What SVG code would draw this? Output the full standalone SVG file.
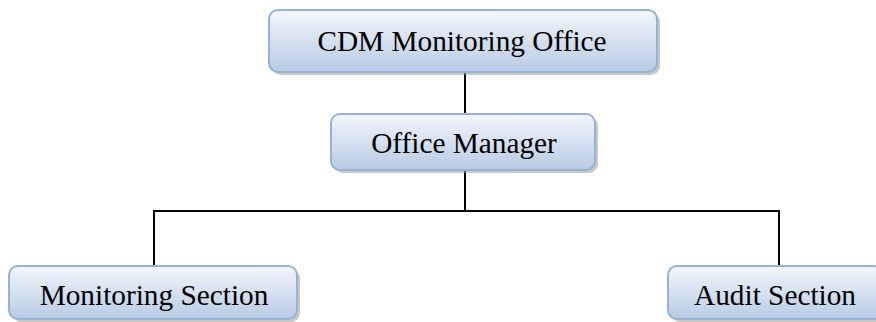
<svg xmlns="http://www.w3.org/2000/svg" width="876" height="322" viewBox="0 0 876 322">
  <defs>
    <linearGradient id="boxFill" x1="0" y1="0" x2="0" y2="1">
      <stop offset="0" stop-color="#f3f6fb"/>
      <stop offset="1" stop-color="#b8cbe4"/>
    </linearGradient>
  </defs>
  <style>
    .box { fill: url(#boxFill); stroke: #95b3d7; stroke-width: 2; }
    .shadow { fill: #9a9a9a; opacity: 0.55; }
    .label { font-family: "Liberation Serif", "Times New Roman", serif; font-size: 29.3px; fill: #000; text-anchor: middle; }
    .link { stroke: #000; stroke-width: 2; fill: none; }
  </style>
  <rect width="876" height="322" fill="#fff"/>

  <g id="connectors">
    <line class="link" x1="465" y1="72" x2="465" y2="114"/>
    <line class="link" x1="465" y1="170" x2="465" y2="211"/>
    <polyline class="link" points="154,266 154,211 779,211 779,266"/>
  </g>

  <g id="cdm-monitoring-office">
    <rect class="shadow" x="272" y="13" width="388" height="62" rx="9"/>
    <rect class="box" x="269" y="10" width="388" height="62" rx="9"/>
    <text class="label" x="462" y="51">CDM Monitoring Office</text>
  </g>

  <g id="office-manager">
    <rect class="shadow" x="334" y="117" width="264" height="56" rx="9"/>
    <rect class="box" x="331" y="114" width="264" height="56" rx="9"/>
    <text class="label" x="464" y="153">Office Manager</text>
  </g>

  <g id="monitoring-section">
    <rect class="shadow" x="12" y="269" width="288" height="53" rx="9"/>
    <rect class="box" x="9" y="266" width="288" height="53" rx="9"/>
    <text class="label" x="154" y="305">Monitoring Section</text>
  </g>

  <g id="audit-section">
    <rect class="shadow" x="671" y="269" width="214" height="53" rx="9"/>
    <rect class="box" x="668" y="266" width="214" height="53" rx="9"/>
    <text class="label" x="775" y="305">Audit Section</text>
  </g>
</svg>
